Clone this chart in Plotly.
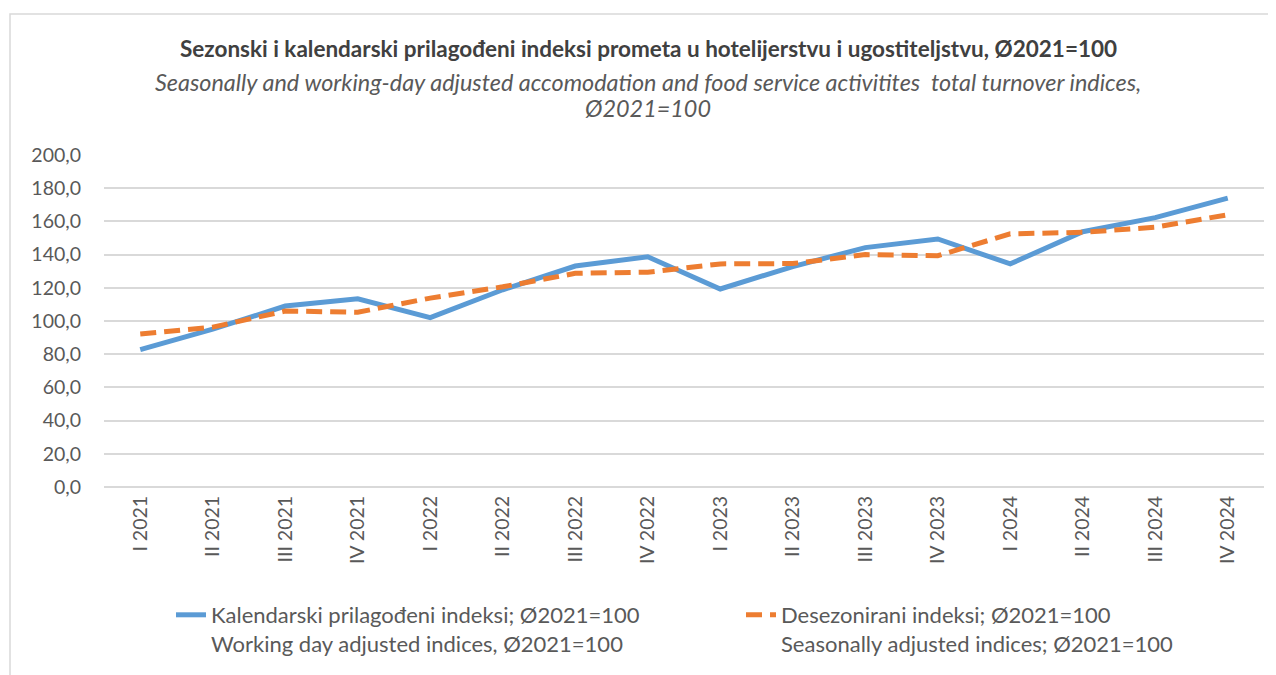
import plotly.graph_objects as go

categories = ["I 2021", "II 2021", "III 2021", "IV 2021",
              "I 2022", "II 2022", "III 2022", "IV 2022",
              "I 2023", "II 2023", "III 2023", "IV 2023",
              "I 2024", "II 2024", "III 2024", "IV 2024"]
working_day_adjusted = [82.7, 95.1, 109.0, 113.4, 102.0, 118.8, 133.1, 138.7,
                        119.3, 132.8, 144.2, 149.4, 134.4, 153.8, 162.3, 174.0]
seasonally_adjusted = [92.2, 96.3, 106.0, 105.3, 113.8, 120.6, 128.7, 129.4,
                       134.4, 134.6, 140.0, 139.3, 152.5, 153.4, 156.5, 164.0]
y_ticks = [0, 20, 40, 60, 80, 100, 120, 140, 160, 180, 200]

name_blue = "Kalendarski prilagođeni indeksi; Ø2021=100<br>Working day adjusted indices, Ø2021=100"
name_orange = "Desezonirani indeksi; Ø2021=100<br>Seasonally adjusted indices; Ø2021=100"

FONT = "Lato"
OFF = 8  # page body margin
W, H = 1276, 675
ML, MR, MT, MB = 104 - OFF, 20, 155 - OFF, 196
pw, ph = W - ML - MR, H - MT - MB

def px(x):  # screen x -> paper
    return (x - OFF - ML) / pw

def py(y):  # screen y -> paper
    return (H - MB - (y - OFF)) / ph

fig = go.Figure()
fig.add_trace(go.Scatter(x=categories, y=working_day_adjusted, mode="lines",
                         name=name_blue,
                         line=dict(color="#5B9BD5", width=5)))
fig.add_trace(go.Scatter(x=categories, y=seasonally_adjusted, mode="lines",
                         name=name_orange,
                         line=dict(color="#ED7D31", width=5, dash="16px,8px")))

fig.update_layout(
    width=W, height=H,
    margin=dict(l=ML, r=MR, t=MT, b=MB, autoexpand=False),
    paper_bgcolor="white", plot_bgcolor="white",
    separators=",.",
    font=dict(family=FONT, size=19.5, color="#595959"),
    showlegend=True,
    legend=dict(orientation="h", xref="container", yref="container",
                x=(171 - OFF) / W, y=1 - (594 - OFF) / H, xanchor="left", yanchor="top",
                entrywidth=525, entrywidthmode="pixels", valign="top",
                font=dict(family=FONT, size=22, color="#595959"),
                bgcolor="rgba(0,0,0,0)", tracegroupgap=0),
    xaxis=dict(type="category", range=[-0.5, 15.5], tickangle=-90,
               showgrid=False, showline=False, ticks="", ticklabelstandoff=4,
               tickfont=dict(family=FONT, size=19.5, color="#595959")),
    yaxis=dict(range=[0, 200], tickvals=y_ticks, tickformat=".1f",
               showgrid=True, gridcolor="#D9D9D9", gridwidth=2,
               zeroline=True, zerolinecolor="#D9D9D9", zerolinewidth=2,
               showline=False, ticks="", ticklabelstandoff=22,
               tickfont=dict(family=FONT, size=19.5, color="#595959")),
    annotations=[
        dict(text="<b>Sezonski i kalendarski prilagođeni indeksi prometa u hotelijerstvu i ugostiteljstvu, Ø2021=100</b>",
             xref="paper", yref="paper", x=px(648), y=py(48), xanchor="center", yanchor="middle",
             showarrow=False, font=dict(family=FONT, size=22.5, color="#404040")),
        dict(text="<i>Seasonally and working-day adjusted accomodation and food service activitites  total turnover indices,</i>",
             xref="paper", yref="paper", x=px(648), y=py(82), xanchor="center", yanchor="middle",
             showarrow=False, font=dict(family=FONT, size=23.4, color="#595959")),
        dict(text="<i>Ø2021=100</i>",
             xref="paper", yref="paper", x=px(648), y=py(108), xanchor="center", yanchor="middle",
             showarrow=False, font=dict(family=FONT, size=23.4, color="#595959")),
    ],
    shapes=[
        dict(type="rect", xref="paper", yref="paper",
             x0=px(10), x1=px(1300), y0=py(700), y1=py(14),
             line=dict(color="#D9D9D9", width=1.5), fillcolor="rgba(0,0,0,0)", layer="below"),
    ],
)

fig.write_html("out.html")
